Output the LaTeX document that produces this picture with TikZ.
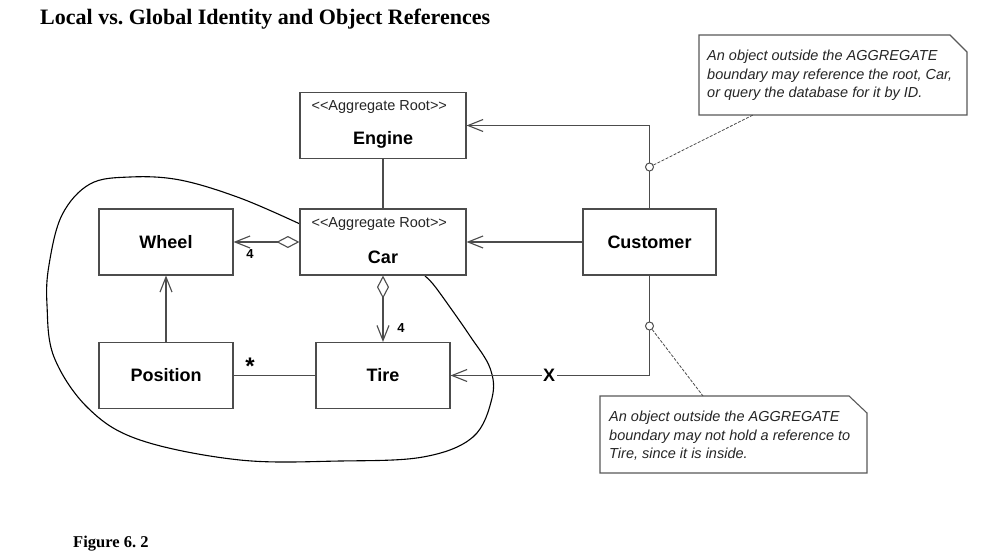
\documentclass[tikz,border=0pt]{standalone}
\usepackage{fontspec}
\setmainfont{Liberation Sans}
\newfontfamily\titlefont{Liberation Serif}
\usetikzlibrary{arrows.meta,calc}
\frenchspacing
\newcommand{\stereotxt}{{<}{<}Aggregate Root{>}{>}}
\begin{document}
\begin{tikzpicture}[x=1pt,y=-1pt,
  box/.style={draw=black!70,line width=1.2pt,minimum width=166pt,minimum height=66pt,inner sep=0pt},
  sbox/.style={box,minimum width=134pt},
  cname/.style={font=\fontsize{18}{20}\selectfont\bfseries},
  stereo/.style={font=\fontsize{14.5}{16}\selectfont,text=black!85},
  conn/.style={draw=black!70,line width=1.2pt},
  oarr/.style={conn,-{Straight Barb[length=15pt,width=12pt,line width=1.1pt]}},
  diam/.style={{Diamond[length=23pt,width=12pt,fill=white,line width=1.1pt]}-{Straight Barb[length=15pt,width=12pt,line width=1.1pt]}},
  mult/.style={font=\fontsize{13}{15}\selectfont\bfseries},
  circ/.style={circle,draw=black!70,fill=white,line width=1pt,minimum size=8pt,inner sep=0pt},
  notetext/.style={font=\fontsize{14.5}{18.5}\selectfont\itshape,align=left,text=black!85,inner sep=0pt},
  notebox/.style={draw=black!65,line width=1.1pt,fill=white},
  link/.style={draw=black!70,line width=0.8pt,dash pattern=on 3pt off 1.5pt}
]
\useasboundingbox (0,0) rectangle (992,554);
\fill[white] (0,0) rectangle (992,554);

% title and caption
\node[anchor=base west,inner sep=0pt,font=\titlefont\fontsize{22}{24}\selectfont\bfseries] (title) at (40,24) {Local vs. Global Identity and Object References};
\node[anchor=base west,inner sep=0pt,font=\titlefont\fontsize{16.5}{18}\selectfont\bfseries] (caption) at (73,547) {Figure 6. 2};

% aggregate boundary
\draw[black,line width=1.1pt] plot[smooth,tension=0.6] coordinates{
 (300,224) (240,198) (180,180) (130,177) (90,184) (62,215) (49,265) (47,305) (54,357)
 (88,408) (140,440) (240,460) (340,461) (423,457) (473,437) (492,398) (490,368)
 (470,336) (447,303) (433,284) (425,276)};

% classes
\node[box] (engine) at (383,125.5) {};
\node[stereo,anchor=west] (engineS) at (308,107) {\stereotxt};
\node[cname] (engineN) at (383,140) {Engine};

\node[box] (car) at (383,242) {};
\node[stereo,anchor=west] (carS) at (308,224) {\stereotxt};
\node[cname] (carN) at (383,257) {Car};

\node[box,minimum width=133pt] (cust) at (649.5,242) {};
\node[cname] (custN) at (649.5,242) {Customer};

\node[sbox] (wheel) at (166,242) {};
\node[cname] (wheelN) at (166,242) {Wheel};

\node[sbox] (pos) at (166,375.5) {};
\node[cname] (posN) at (166,375.5) {Position};

\node[sbox] (tire) at (383,375.5) {};
\node[cname] (tireN) at (383,375.5) {Tire};

% connectors
\draw[conn] (engine.south) -- (car.north);
\draw[oarr] (cust.north) |- (engine.east);
\draw[oarr] (cust.west) -- (car.east);
\draw[conn,diam] (car.west) -- (wheel.east);
\draw[conn,diam] (car.south) -- (tire.north);
\draw[oarr] (pos.north) -- (wheel.south);
\draw[conn] (pos.east) -- (tire.west);
\draw[oarr] (cust.south) |- (tire.east);

\node[mult] (m1) at (250,254) {4};
\node[mult] (m2) at (401,328) {4};
\node[font=\fontsize{24}{24}\selectfont\bfseries,inner sep=0pt] (m3) at (250,366) {*};
\node[fill=white,inner sep=1.5pt,font=\fontsize{18}{20}\selectfont\bfseries] (xmark) at (549,375.5) {X};

% notes
\coordinate (n1a) at (699,35);
\coordinate (n1b) at (967,115);
\draw[notebox] (n1a) -- (950,35) -- (967,52) -- (n1b |- 0,52) -- (n1b) -- (n1a |- n1b) -- cycle;
\node[notetext,anchor=north west] (note1) at (707,50) {An object outside the AGGREGATE\\boundary may reference the root, Car,\\or query the database for it by ID.};
\coordinate (n1c) at (753,115);

\coordinate (n2a) at (600,396);
\coordinate (n2b) at (867,473);
\draw[notebox] (n2a) -- (849,396) -- (867,413) -- (n2b |- 0,413) -- (n2b) -- (n2a |- n2b) -- cycle;
\node[notetext,anchor=north west] (note2) at (609,411) {An object outside the AGGREGATE\\boundary may not hold a reference to\\Tire, since it is inside.};
\coordinate (n2c) at (703,396);

\node[circ] (c1) at (649.5,167) {};
\node[circ] (c2) at (649.5,326) {};
\draw[link] (c1) -- (n1c);
\draw[link] (c2) -- (n2c);
\end{tikzpicture}
\end{document}
